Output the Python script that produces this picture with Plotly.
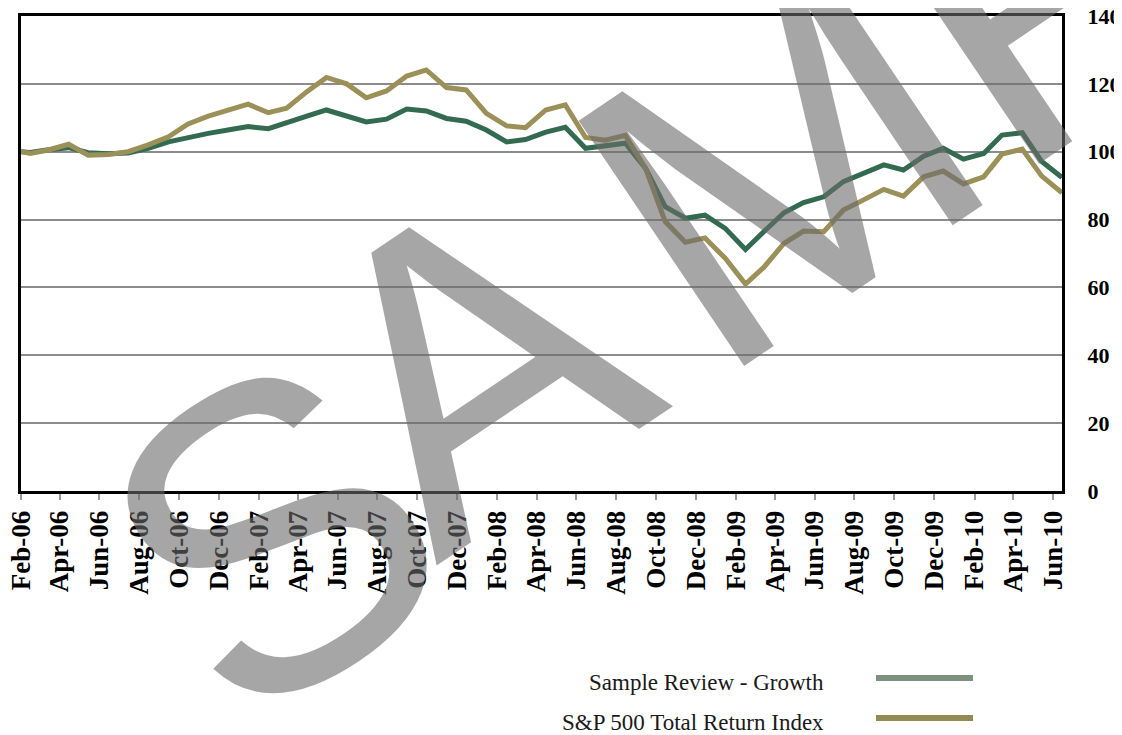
import plotly.graph_objects as go
import pandas as pd

# Monthly observations (mid-month), Jan-06 (clipped at left edge) through Jun-10
months = [d.strftime("%Y-%m-15") for d in pd.date_range("2006-01-01", "2010-06-01", freq="MS")]

growth = [100.2, 99.8, 100.6, 101.2, 99.7, 99.4, 99.6, 101.0, 102.9, 104.2, 105.4, 106.4,
          107.4, 106.8, 108.4, 110.5, 112.3, 110.5, 108.8, 109.6, 112.6, 112.0, 109.8, 109.0,
          106.4, 102.9, 103.6, 105.8, 107.2, 101.0, 101.7, 102.5, 95.1, 83.8, 80.4, 81.3,
          77.4, 71.2, 76.4, 82.0, 85.0, 86.7, 91.2, 93.6, 96.1, 94.6, 98.7, 101.0,
          97.8, 99.5, 104.9, 105.6, 97.1, 92.4]

sp500 = [100.8, 99.5, 100.5, 102.2, 99.0, 99.2, 100.0, 102.0, 104.4, 108.2, 110.5, 112.3,
         114.0, 111.5, 112.8, 117.7, 121.9, 120.0, 115.9, 117.9, 122.3, 124.1, 118.9, 118.2,
         111.3, 107.6, 107.1, 112.3, 113.8, 104.2, 103.4, 104.8, 95.1, 79.4, 73.3, 74.6,
         68.6, 61.0, 65.9, 73.0, 76.6, 76.4, 82.8, 85.8, 88.9, 86.9, 92.6, 94.3,
         90.5, 92.6, 99.3, 100.8, 92.8, 87.9]

series_names = ["Sample Review - Growth", "S&P 500 Total Return Index"]
line_colors = ["#336b51", "#9c9059"]
legend_colors = ["#7d927c", "#948a54"]

# Watermark letters (visible part of "SAMPLE") and their page-pixel centres
wm_letters = ["S", "A", "M", "P"]
wm_centres = [(272, 535), (472, 362), (780, 162), (1045, -20)]

W, H = 1122, 735
OFF = 8  # page body margin offset
L, T = 21 - OFF, 16 - OFF
Rpx, Bpx = 1062 - OFF, 491 - OFF
R, B = W - Rpx, H - Bpx
PW, PH = Rpx - L, Bpx - T
SERIF = "Liberation Serif, Times New Roman, serif"


def px(x):
    # page pixel -> paper fraction
    return (x - OFF - L) / PW


def py(y):
    return (Bpx - (y - OFF)) / PH


fig = go.Figure()
fig.add_trace(go.Scatter(x=months, y=growth, mode="lines", name=series_names[0],
                         line=dict(color=line_colors[0], width=5)))
fig.add_trace(go.Scatter(x=months, y=sp500, mode="lines", name=series_names[1],
                         line=dict(color=line_colors[1], width=5)))

fig.update_layout(
    width=W, height=H,
    margin=dict(l=L, r=R, t=T, b=B, autoexpand=False),
    paper_bgcolor="white", plot_bgcolor="white",
    showlegend=False,
    xaxis=dict(
        type="date", range=["2006-02-01", "2010-06-15"], automargin=False,
        tick0="2006-02-01", dtick="M2", tickformat="%b-%y",
        tickangle=-90, ticks="outside", ticklen=6, tickcolor="#999999", tickwidth=1.5,
        showline=True, linecolor="black", linewidth=3, mirror=True,
        showgrid=False, zeroline=False, ticklabeloverflow="allow",
        tickfont=dict(family=SERIF, size=27, color="black", weight="bold"),
    ),
    yaxis=dict(
        side="right", range=[0, 140], dtick=20, automargin=False,
        showgrid=True, gridcolor="#8c8c8c", gridwidth=1.5,
        showline=True, linecolor="black", linewidth=3, mirror=True,
        zeroline=False, ticks="", ticklabelstandoff=18, ticklabeloverflow="allow",
        tickfont=dict(family=SERIF, size=22, color="black", weight="bold"),
    ),
)

# Custom legend (text on the left, line sample on the right)
legend_rows = [682, 722]
for name, col, yy in zip(series_names, legend_colors, legend_rows):
    fig.add_shape(type="line", xref="paper", yref="paper",
                  x0=px(876), x1=px(973), y0=py(yy - 4), y1=py(yy - 4),
                  line=dict(color=col, width=6))
    fig.add_annotation(xref="paper", yref="paper",
                       x=px(826), y=py(yy),
                       xanchor="right", yanchor="middle", showarrow=False,
                       text=name, font=dict(family=SERIF, size=23, color="#1a1a1a"))

# Watermark
for ch, (cx, cy) in zip(wm_letters, wm_centres):
    fig.add_annotation(xref="paper", yref="paper",
                       x=px(cx), y=py(cy),
                       xanchor="center", yanchor="middle", showarrow=False,
                       text=ch, textangle=-34,
                       font=dict(family="Liberation Sans, Arial, sans-serif", size=430,
                                 color="rgba(107,107,107,0.6)"))

fig.write_html("out.html")
